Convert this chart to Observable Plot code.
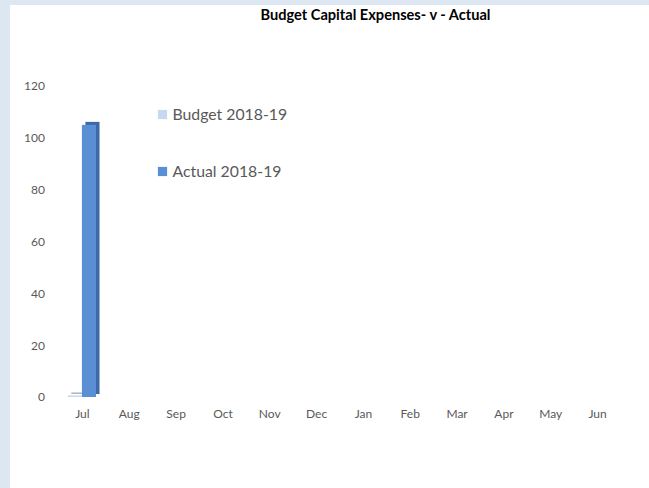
<!DOCTYPE html>
<html>
<head>
<meta charset="utf-8">
<script src="https://cdn.jsdelivr.net/npm/d3@7"></script>
<script src="https://cdn.jsdelivr.net/npm/@observablehq/plot@0.6"></script>
<style>
  html, body { margin: 0; padding: 0; }
  body { width: 649px; height: 488px; background: #dde7f1; overflow: hidden; position: relative; }
  #panel { position: absolute; left: 10px; top: 5px; width: 639px; height: 483px; background: #ffffff; }
  #panel svg { display: block; }
</style>
</head>
<body>
<div id="panel"></div>
<script>
const months = ["Jul","Aug","Sep","Oct","Nov","Dec","Jan","Feb","Mar","Apr","May","Jun"];
const seriesNames = ["Budget 2018-19", "Actual 2018-19"];
const budget = [0.6, null, null, null, null, null, null, null, null, null, null, null];
const actual = [105, null, null, null, null, null, null, null, null, null, null, null];
const yTicks = [0, 20, 40, 60, 80, 100, 120];
const title = "Budget Capital Expenses- v - Actual";
const colors = ["#c6d9f0", "#5a8fd6"];
const sideColors = ["#a9b7c8", "#3d69a6"];

const rows = [];
months.forEach((m, i) => {
  if (budget[i] != null) rows.push({month: m, series: seriesNames[0], value: budget[i]});
  if (actual[i] != null) rows.push({month: m, series: seriesNames[1], value: actual[i]});
});

const font = "Lato, 'Open Sans', sans-serif";

const legendMarks = seriesNames.flatMap((s, i) => [
  Plot.dot([s], {facet: "super", frameAnchor: "top-left", symbol: "square", r: 5.2, fill: colors[i], dx: 103.5, dy: 28 + i * 57}),
  Plot.text([s], {facet: "super", frameAnchor: "top-left", lineAnchor: "middle", text: (d) => d, textAnchor: "start", fontSize: 15.8, fill: "#595959", dx: 113.5, dy: 28 + i * 57})
]);

const chart = Plot.plot({
  width: 639,
  height: 483,
  marginTop: 81,
  marginBottom: 91,
  marginLeft: 48.5,
  marginRight: 28.5,
  style: {fontFamily: font, fontSize: "12px", color: "#595959", background: "transparent"},
  fx: {domain: months, padding: 0, round: false, label: null, axis: "bottom", tickSize: 0, tickPadding: 12},
  x: {domain: seriesNames, paddingInner: 0, paddingOuter: 0.66, round: false, axis: null},
  y: {domain: [0, 120], ticks: yTicks, label: null, tickSize: 0, tickPadding: 14, grid: false},
  color: {domain: seriesNames, range: colors},
  marks: [
    // 3D side/depth face
    Plot.rectY(rows, {fx: "month", x: "series", y: "value", fill: (d) => sideColors[seriesNames.indexOf(d.series)], dx: 3.5, dy: -3}),
    // front face
    Plot.rectY(rows, {fx: "month", x: "series", y: "value", fill: "series"}),
    ...legendMarks,
    Plot.text([title], {facet: "super", frameAnchor: "top-left", lineAnchor: "middle", text: (d) => d, fontWeight: "bold", fontSize: 14.6, fill: "#000", textAnchor: "middle", dx: 316.5, dy: -71})
  ]
});
document.getElementById("panel").appendChild(chart);
</script>
</body>
</html>
